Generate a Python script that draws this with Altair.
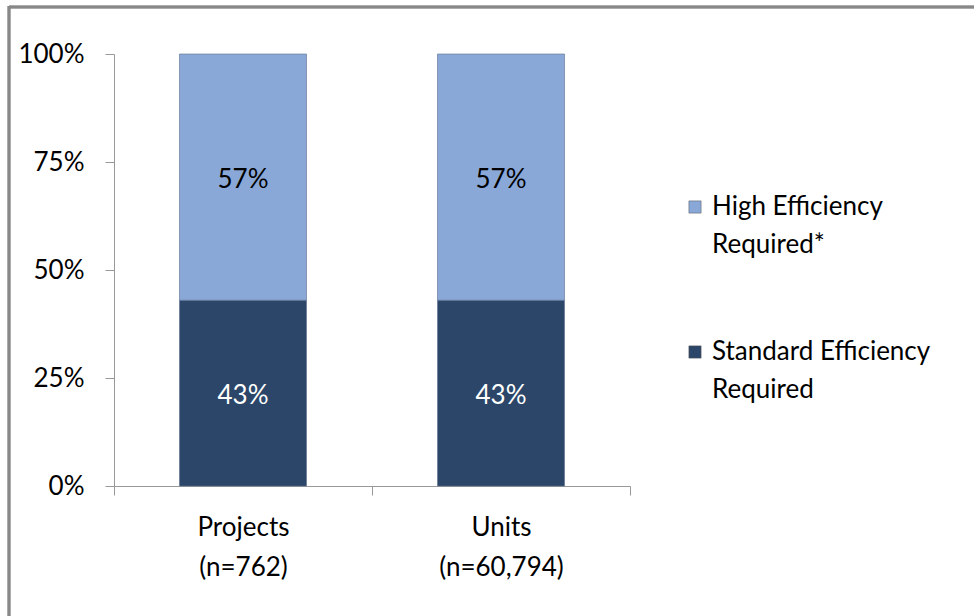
import altair as alt
import pandas as pd

categories = ["Projects|(n=762)", "Units|(n=60,794)"]
series = ["Standard Efficiency Required", "High Efficiency Required*"]
standard_vals = [43, 43]
high_vals = [57, 57]

rows = []
for i, c in enumerate(categories):
    rows.append({"cat": c, "series": series[0], "value": standard_vals[i], "order": 0})
    rows.append({"cat": c, "series": series[1], "value": high_vals[i], "order": 1})
df = pd.DataFrame(rows)

FONT = "Lato"
FS = 26

x_enc = alt.X("cat:N", sort=categories, title=None,
              scale=alt.Scale(paddingInner=0, paddingOuter=0),
              axis=alt.Axis(labelExpr="split(datum.label, '|')", labelAngle=0,
                            labelFontSize=FS, labelFont=FONT, labelColor="#000",
                            labelLineHeight=40, labelPadding=19,
                            tickBand="extent", tickSize=9, tickColor="#999",
                            domainColor="#999", labelBaseline="top"))

y_enc = alt.Y("value:Q", stack="zero", title=None,
              scale=alt.Scale(domain=[0, 100]),
              axis=alt.Axis(values=[0, 25, 50, 75, 100], labelExpr="datum.value + '%'",
                            labelFontSize=FS, labelFont=FONT, labelColor="#000",
                            grid=False, tickSize=9, tickColor="#999", domainColor="#999",
                            labelPadding=21))

color_enc = alt.Color("series:N", sort=[series[1], series[0]],
                      scale=alt.Scale(domain=[series[1], series[0]], range=["#89a8d8", "#2b4669"]),
                      legend=alt.Legend(title=None, orient="none", legendX=568, legendY=140,
                                        symbolType="square", symbolSize=150,
                                        symbolStrokeColor="#555", symbolStrokeWidth=0.5,
                                        labelFont=FONT, labelFontSize=FS, labelColor="#000",
                                        labelExpr="datum.label == 'High Efficiency Required*' ? ['High Efficiency', 'Required*'] : ['Standard Efficiency', 'Required']",
                                        rowPadding=81, labelOffset=4, labelLimit=400))

base = alt.Chart(df)

bars = base.mark_bar(size=127, stroke="#5a6f8c", strokeWidth=0.6).encode(
    x=x_enc, y=y_enc, color=color_enc, order=alt.Order("order:Q")
)

labels = base.transform_stack(
    stack="value", groupby=["cat"], as_=["y0", "y1"], sort=[alt.SortField("order")]
).transform_calculate(
    mid="(datum.y0 + datum.y1) / 2", txt="datum.value + '%'"
).mark_text(font=FONT, fontSize=FS, dy=3).encode(
    x=alt.X("cat:N", sort=categories),
    y=alt.Y("mid:Q"),
    text="txt:N",
    color=alt.condition(alt.datum.order == 0, alt.value("white"), alt.value("black")),
)

border_top = alt.Chart(df).mark_rule(color="#888", strokeWidth=2.5).encode(
    x=alt.value(-105), x2=alt.value(870), y=alt.value(-47)
)
border_left = alt.Chart(df).mark_rule(color="#888", strokeWidth=2.5).encode(
    x=alt.value(-105), y=alt.value(-48), y2=alt.value(580)
)

chart = alt.layer(bars, labels, border_top, border_left).properties(
    width=516, height=432,
    autosize=alt.AutoSizeParams(type="none"),
    padding={"left": 114, "top": 54, "right": 344, "bottom": 130},
).configure(
    background="white",
    style={"guide-label": {"lineHeight": 38}},
).configure_view(stroke=None)

chart.save("out.html", embed_options={"renderer": "svg", "actions": False})
